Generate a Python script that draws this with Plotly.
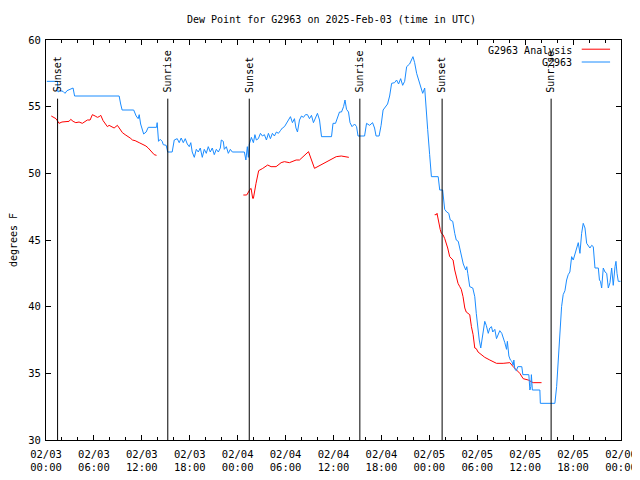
import plotly.graph_objects as go
import pandas as pd

BASE = pd.Timestamp("2025-02-03 00:00")

# G2963 observations: hours since 2025-02-03 00:00 UTC, dew point (F)
obs_hours = [0.1, 1.44, 1.5, 1.76, 2.13, 2.38, 2.63, 3.14, 3.39, 3.58, 9.16, 9.35, 9.53, 10.98, 11.29,
             11.54, 11.67, 11.85, 12.04, 12.23, 12.54, 12.8, 13.84, 13.92, 14.09, 14.3, 14.55, 14.68,
             15.05, 15.24, 15.8, 16.06, 16.43, 16.68, 16.93, 17.19, 17.44, 17.69, 17.94, 18.13, 18.31,
             18.57, 18.82, 19.07, 19.32, 19.57, 19.82, 20.07, 20.32, 20.57, 20.82, 21.07, 21.33, 21.58,
             21.83, 21.95, 22.2, 22.33, 22.58, 22.83, 23.08, 23.33, 24.84, 25.03, 25.21, 25.34, 25.46,
             25.72, 25.97, 26.16, 26.34, 26.59, 26.85, 27.1, 27.35, 27.6, 27.85, 28.1, 28.35, 28.6,
             28.85, 29.1, 29.35, 29.6, 29.86, 30.1, 30.36, 30.61, 30.86, 31.11, 31.3, 31.49, 31.74,
             31.99, 32.24, 32.49, 32.74, 32.99, 33.24, 33.49, 33.74, 33.99, 34.25, 34.5, 35.75, 35.94,
             36.25, 36.5, 36.75, 37.0, 37.26, 37.44, 37.63, 37.88, 38.07, 38.32, 38.64, 38.89, 39.07,
             39.89, 40.14, 40.52, 40.89, 41.14, 41.33, 41.71, 41.96, 42.21, 42.52, 42.77, 43.03, 43.28,
             43.65, 43.9, 44.15, 44.41, 44.66, 44.91, 45.16, 45.53, 45.95, 46.16, 46.41, 46.66, 46.92,
             47.17, 47.42, 47.6, 47.79, 48.04, 48.26, 49.11, 49.3, 49.67, 49.92, 50.18, 50.43, 50.62,
             50.93, 51.18, 51.37, 51.62, 51.81, 52.06, 52.25, 52.56, 52.69, 52.81, 53.06, 53.44, 53.69,
             53.88, 54.1, 54.25, 54.44, 54.63, 54.81, 54.94, 55.13, 55.38, 55.57, 55.78, 55.94, 56.2,
             56.41, 56.57, 56.82, 57.07, 57.26, 57.45, 57.67, 57.77, 57.96, 58.15, 58.33, 58.5, 58.58,
             58.71, 58.9, 59.08, 59.58, 59.71, 60.46, 60.59, 60.71, 60.78, 60.9, 61.84, 61.9, 63.72,
             63.94, 64.14, 64.35, 64.56, 64.76, 64.98, 65.19, 65.39, 65.6, 65.82, 66.02, 66.23, 66.44,
             66.65, 66.86, 67.07, 67.27, 67.49, 67.7, 67.92, 68.11, 68.33, 68.53, 68.74, 69.16, 69.3,
             69.43, 69.58, 69.78, 70.0, 70.21, 70.41, 70.62, 70.83, 71.03, 71.25, 71.37, 71.5, 71.66,
             71.94]
obs_dewpt = [56.9, 56.9, 56.1, 56.2, 56.15, 56.0, 56.2, 56.3, 56.4, 55.8, 55.8, 55.2, 54.75, 54.75, 54.3,
             54.1, 54.4, 53.7, 53.2, 52.95, 53.1, 53.45, 53.45, 53.8, 52.4, 52.55, 52.4, 52.15,
             52.1, 51.6, 51.6, 52.5, 52.6, 52.3, 52.65, 52.3, 52.6, 52.2, 52.0, 52.3, 51.6,
             51.2, 51.8, 51.6, 51.9, 51.2, 51.8, 51.5, 52.0, 51.6, 51.9, 51.4, 51.8, 51.6,
             51.9, 52.5, 52.4, 51.8, 52.0, 51.5, 51.8, 51.6, 51.6, 51.0, 52.0, 51.2, 52.2,
             52.7, 52.3, 52.9, 52.5, 52.6, 53.0, 52.8, 52.9, 52.5, 53.0, 52.6, 53.0, 52.8,
             53.1, 53.0, 53.2, 53.4, 53.5, 53.8, 54.0, 54.25, 53.8, 54.1, 53.4, 53.1, 54.0,
             54.3, 54.2, 54.4, 54.4, 54.1, 54.35, 53.8, 54.1, 54.5, 54.0, 52.75, 52.75, 53.75,
             53.75, 54.2, 54.6, 54.6, 55.0, 55.5, 54.8, 54.6, 53.8, 53.5, 53.7, 53.5, 52.8,
             52.8, 53.75, 53.6, 53.8, 53.4, 52.8, 52.8, 53.6, 54.75, 55.0, 55.2, 55.8, 56.75,
             56.8, 57.0, 56.7, 57.1, 56.6, 56.9, 58.0, 58.2, 58.75, 58.3, 57.5, 57.0, 56.6,
             56.0, 56.4, 54.5, 53.3, 51.4, 49.75, 49.75, 48.75, 48.75, 47.3, 47.1, 47.0, 46.5,
             46.4, 45.5, 45.0, 44.9, 44.4, 43.9, 43.2, 42.75, 43.0, 42.5, 41.5, 41.4, 40.75,
             39.5, 38.0, 37.5, 36.9, 37.7, 38.6, 38.9, 38.6, 38.0, 38.4, 38.5, 38.1, 38.3,
             37.6, 37.9, 38.2, 38.0, 37.7, 37.3, 36.8, 37.4, 36.3, 36.0, 35.9, 35.6, 36.0,
             35.3, 35.2, 35.5, 35.5, 34.9, 34.9, 33.75, 34.0, 34.9, 33.75, 33.75, 32.75, 32.75,
             34.0, 36.0, 37.5, 40.0, 40.9, 41.2, 42.0, 42.4, 42.6, 43.75, 43.5, 44.0, 44.5,
             44.8, 44.0, 45.5, 46.25, 45.9, 44.75, 44.6, 44.4, 44.6, 44.5, 42.9, 42.9, 42.0,
             41.9, 41.4, 42.9, 42.6, 42.5, 41.4, 41.8, 42.9, 41.6, 43.0, 43.4, 42.5, 41.9,
             41.9]

# G2963 Analysis, three separate runs
ana1_hours = [0.66, 1.0, 1.25, 1.42, 1.63, 2.0, 2.47, 2.89, 3.1, 3.39, 3.73, 4.14, 4.55, 4.89, 5.18,
              5.52, 5.81, 6.15, 6.44, 6.65, 6.86, 7.15, 7.4, 7.69, 7.9, 8.15, 8.53, 8.94, 9.16, 9.41,
              9.57, 9.91, 10.2, 10.54, 10.83, 11.16, 11.67, 12.04, 12.51, 12.8, 13.13, 13.36, 13.55,
              13.84]
ana1_dewpt = [54.3, 54.2, 54.1, 53.95, 53.75, 53.85, 53.85, 53.9, 54.05, 53.9, 53.8, 53.85, 53.75, 53.9,
              54.0, 54.0, 54.4, 54.3, 54.2, 54.25, 54.35, 53.95, 53.7, 53.5, 53.6, 53.5, 53.4, 53.6,
              53.4, 53.2, 53.05, 52.9, 52.8, 52.65, 52.5, 52.45, 52.3, 52.2, 52.05, 51.9, 51.65, 51.55,
              51.4, 51.35]
ana2_hours = [24.71, 25.13, 25.55, 25.68, 25.88, 25.97, 26.3, 26.63, 27.14, 27.76, 28.18, 28.81, 29.44,
              29.85, 30.48, 30.9, 31.32, 31.74, 32.15, 32.87, 33.62, 34.03, 34.66, 35.29, 35.71, 36.34,
              36.97, 37.92]
ana2_dewpt = [48.375, 48.375, 48.8, 48.875, 48.125, 48.125, 49.25, 50.2, 50.37, 50.625, 50.5, 50.5, 50.8,
              50.875, 50.8, 50.93, 51.0, 51.0, 51.25, 51.625, 50.375, 50.5, 50.7, 50.925, 51.05, 51.25,
              51.3, 51.2]
ana3_hours = [48.67, 48.88, 48.96, 49.05, 49.21, 49.36, 49.51, 49.71, 49.93, 50.14, 50.3, 50.55, 50.74,
              50.97, 51.18, 51.37, 51.59, 51.81, 52.0, 52.22, 52.44, 52.62, 52.85, 53.06, 53.27, 53.48,
              53.69, 53.88, 54.1, 54.53, 54.94, 55.57, 56.41, 57.24, 57.83, 58.08, 58.5, 58.92, 59.33,
              59.75, 60.38, 61.0, 62.05]
ana3_dewpt = [46.9, 46.9, 47.0, 46.7, 46.25, 45.8, 45.5, 45.4, 45.1, 44.75, 44.4, 43.75, 43.6,
              43.5, 42.75, 42.3, 41.75, 41.5, 41.3, 40.75, 39.9, 39.6, 39.5, 39.4, 38.5, 37.9,
              36.9, 36.85, 36.6, 36.4, 36.2, 36.0, 35.75, 35.75, 35.8, 35.8, 35.5, 35.25, 35.0,
              34.6, 34.5, 34.3, 34.3]

event_names = ["Sunset", "Sunrise", "Sunset", "Sunrise", "Sunset", "Sunrise"]
event_hours = [1.45, 15.25, 25.45, 39.3, 49.6, 63.25]
event_line_top = 55.6

tick_hours = [0, 6, 12, 18, 24, 30, 36, 42, 48, 54, 60, 66, 72]
tick_labels = ["02/03<br>00:00", "02/03<br>06:00", "02/03<br>12:00", "02/03<br>18:00",
               "02/04<br>00:00", "02/04<br>06:00", "02/04<br>12:00", "02/04<br>18:00",
               "02/05<br>00:00", "02/05<br>06:00", "02/05<br>12:00", "02/05<br>18:00",
               "02/06<br>00:00"]
minor_hours = list(range(0, 73, 2))


def t(h):
    return None if h is None else BASE + pd.Timedelta(hours=h)


ana_hours = ana1_hours + [None] + ana2_hours + [None] + ana3_hours
ana_dewpt = ana1_dewpt + [None] + ana2_dewpt + [None] + ana3_dewpt

RED = "#ff0000"
BLUE = "#1a8cff"
FONT = "DejaVu Sans Mono"
FS = 10

fig = go.Figure()
fig.add_trace(go.Scatter(x=[t(h) for h in ana_hours], y=ana_dewpt, mode="lines",
                         line=dict(color=RED, width=1), connectgaps=False,
                         name="G2963 Analysis", showlegend=False))
fig.add_trace(go.Scatter(x=[t(h) for h in obs_hours], y=obs_dewpt, mode="lines",
                         line=dict(color=BLUE, width=1), name="G2963", showlegend=False))

for name, h in zip(event_names, event_hours):
    fig.add_shape(type="line", xref="x", yref="y", x0=t(h), x1=t(h), y0=30, y1=event_line_top,
                  line=dict(color="black", width=1))
    fig.add_annotation(x=t(h), y=event_line_top, xref="x", yref="y", text=name, textangle=-90,
                       showarrow=False, xanchor="center", yanchor="bottom", yshift=4,
                       font=dict(family=FONT, size=FS, color="black"))

# legend (gnuplot style: text then line sample)
legend_items = [("G2963 Analysis", RED, 0.975), ("G2963", BLUE, 0.943)]
for label, col, yy in legend_items:
    fig.add_annotation(x=0.918, y=yy, xref="paper", yref="paper", text=label, showarrow=False,
                       xanchor="right", yanchor="middle", font=dict(family=FONT, size=FS, color="black"))
    fig.add_shape(type="line", xref="paper", yref="paper", x0=0.9317, x1=0.981, y0=yy + 0.002,
                  y1=yy + 0.002, line=dict(color=col, width=1))

# title
fig.add_annotation(x=0.4965, y=1.05, xref="paper", yref="paper",
                   text="Dew Point for G2963 on 2025-Feb-03 (time in UTC)", showarrow=False,
                   xanchor="center", yanchor="middle", font=dict(family=FONT, size=FS, color="black"))

# the page body has an 8px margin: size the figure so the plot area lands where the reference has it
fig.update_layout(
    width=632, height=472,
    margin=dict(l=38, r=19, t=32, b=40, autoexpand=False),
    paper_bgcolor="white", plot_bgcolor="white",
    font=dict(family=FONT, size=FS, color="black"),
    showlegend=False,
)
fig.update_xaxes(
    type="date", range=[t(0), t(72)], automargin=False, ticklabeloverflow="allow",
    tickmode="array", tickvals=[t(h) for h in tick_hours], ticktext=tick_labels,
    ticks="inside", ticklen=5, tickcolor="black", tickwidth=1, ticklabelstandoff=4,
    minor=dict(tickmode="array", tickvals=[t(h) for h in minor_hours], ticks="inside",
               ticklen=3, tickcolor="black", tickwidth=1, showgrid=False),
    showline=True, linecolor="black", linewidth=1, mirror="allticks",
    showgrid=False, zeroline=False, tickfont=dict(family=FONT, size=10.5, color="black"),
)
fig.update_yaxes(
    range=[30, 60], dtick=5, tick0=30, automargin=False,
    ticks="inside", ticklen=5, tickcolor="black", tickwidth=1, ticklabelstandoff=2,
    showline=True, linecolor="black", linewidth=1, mirror="allticks",
    showgrid=False, zeroline=False, tickfont=dict(family=FONT, size=10.5, color="black"),
    title=dict(text="degrees F", font=dict(family=FONT, size=FS, color="black"), standoff=17),
)

fig.write_html("out.html")
